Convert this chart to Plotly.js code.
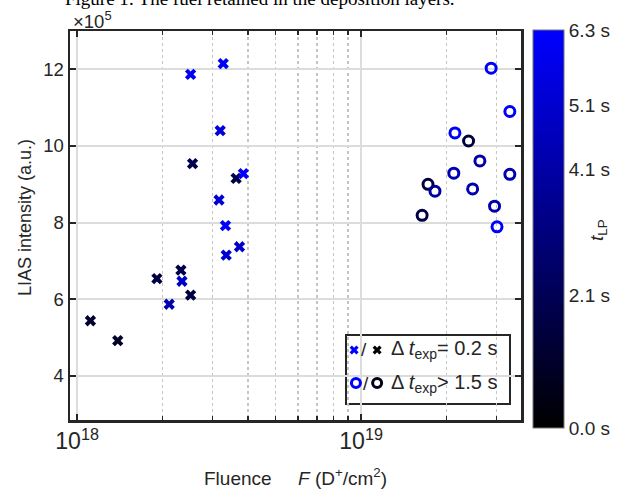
<!DOCTYPE html>
<html>
<head>
<meta charset="utf-8">
<script src="https://cdn.plot.ly/plotly-3.0.1.min.js"></script>
<style>html,body{margin:0;padding:0;background:#fff;}#chart{width:637px;height:489px;}</style>
</head>
<body>
<div id="chart"></div>
<script>
// Short exposure (Δt_exp = 0.2 s) – crosses
const fluenceShort = [3.27e18, 2.51e18, 3.19e18, 2.55e18, 3.63e18, 3.85e18, 3.16e18, 3.33e18, 3.73e18,
                      3.35e18, 2.32e18, 1.91e18, 2.34e18, 2.51e18, 2.11e18, 1.114e18, 1.39e18];
const liasShortE5 = [12.15, 11.87, 10.40, 9.54, 9.155, 9.28, 8.59, 7.92, 7.37,
                     7.15, 6.76, 6.54, 6.47, 6.11, 5.87, 5.44, 4.92];
const tlpShort = [6.2, 6.0, 5.4, 1.9, 1.8, 6.2, 5.3, 6.3, 5.0,
                  5.2, 1.8, 1.7, 5.0, 1.6, 4.3, 1.2, 1.0];

// Long exposure (Δt_exp > 1.5 s) – open circles
const fluenceLong = [2.87e19, 3.34e19, 2.14e19, 2.39e19, 2.62e19, 2.12e19, 3.34e19,
                     1.72e19, 1.82e19, 2.47e19, 2.95e19, 1.64e19, 3.01e19];
const liasLongE5 = [12.03, 10.90, 10.34, 10.13, 9.61, 9.29, 9.26,
                    9.00, 8.82, 8.88, 8.43, 8.19, 7.89];
const tlpLong = [6.3, 6.2, 6.0, 1.6, 4.2, 4.4, 4.3,
                 1.5, 4.0, 4.3, 4.2, 1.7, 6.2];

// Axis ticks
const yTicks = [4, 6, 8, 10, 12];
const cbTickVals = [0, 2.1, 4.1, 5.1, 6.3];
const cbTickText = ['0.0 s', '2.1 s', '4.1 s', '5.1 s', '6.3 s'];
const legendLabels = ['Δ <i>t</i><sub>exp</sub>= 0.2 s', 'Δ <i>t</i><sub>exp</sub>> 1.5 s'];

const FONT = 'Liberation Sans, Arial, sans-serif';
const AX = '#262626';
const FT = 18.5;   // tick labels
const FL = 19;     // titles / legend

const traces = [
  {type:'scatter', mode:'markers', x:fluenceShort, y:liasShortE5, showlegend:false,
   marker:{symbol:'x', size:10, color:tlpShort, coloraxis:'coloraxis', line:{width:0}}},
  {type:'scatter', mode:'markers', x:fluenceLong, y:liasLongE5, showlegend:false,
   marker:{symbol:'circle-open', size:10, color:tlpLong, coloraxis:'coloraxis', line:{width:3}}},
  // legend glyphs on an overlay axis (0..1 in plot-area fraction)
  {type:'scatter', mode:'markers', xaxis:'x2', yaxis:'y2', showlegend:false, hoverinfo:'skip',
   x:[0.630, 0.681], y:[0.180, 0.180],
   marker:{symbol:'x', size:8, color:['#0000ff', '#000000'], line:{width:0}}},
  {type:'scatter', mode:'markers', xaxis:'x2', yaxis:'y2', showlegend:false, hoverinfo:'skip',
   x:[0.634, 0.681], y:[0.095, 0.095],
   marker:{symbol:'circle-open', size:9, color:['#0000ff', '#00001a'], line:{width:3}}}
];

const annotations = [
  {text:'Figure 1: The fuel retained in the deposition layers.', xref:'paper', yref:'paper',
   x:(63-70)/451, y:(420-11)/389, xanchor:'left', yanchor:'bottom', showarrow:false,
   font:{family:'Liberation Serif, Times New Roman, serif', size:19, color:'#000'}},
  {text:'×10<sup>5</sup>', xref:'paper', yref:'paper', x:0.002, y:(420-34)/389, xanchor:'left', yanchor:'bottom',
   showarrow:false, font:{family:FONT, size:FT, color:AX}},
  {text:'LIAS intensity (a.u.)', xref:'paper', yref:'paper', x:(25-70)/451, y:(420-218)/389,
   xanchor:'center', yanchor:'middle', textangle:-90, showarrow:false, font:{family:FONT, size:18, color:AX}},
  {text:'Fluence\u00A0\u00A0\u00A0\u00A0\u00A0<i>F</i> (D<sup>+</sup>/cm<sup>2</sup>)', xref:'paper', yref:'paper', x:0.5, y:(420-477)/389,
   xanchor:'center', yanchor:'middle', showarrow:false, font:{family:FONT, size:FL, color:AX}},
  {text:'<i>t</i><sub>LP</sub>', xref:'paper', yref:'paper', x:(598-70)/451, y:(420-230)/389,
   xanchor:'center', yanchor:'middle', textangle:-90, showarrow:false, font:{family:FONT, size:FL, color:AX}},
  {text:'/', xref:'paper', yref:'paper', x:(364-70)/451, y:0.180, xanchor:'center', yanchor:'middle',
   showarrow:false, font:{family:FONT, size:FL, color:AX}},
  {text:'/', xref:'paper', yref:'paper', x:(366-70)/451, y:0.095, xanchor:'center', yanchor:'middle',
   showarrow:false, font:{family:FONT, size:FL, color:AX}},
  {text:legendLabels[0], xref:'paper', yref:'paper', x:(389-70)/451, y:0.180, xanchor:'left', yanchor:'middle',
   showarrow:false, font:{family:FONT, size:20, color:AX}},
  {text:legendLabels[1], xref:'paper', yref:'paper', x:(389-70)/451, y:0.095, xanchor:'left', yanchor:'middle',
   showarrow:false, font:{family:FONT, size:20, color:AX}}
];

const shapes = [
  {type:'rect', xref:'paper', yref:'paper', x0:(346-70)/451, x1:(510-70)/451, y0:(420-404)/389, y1:(420-335)/389,
   fillcolor:'#ffffff', line:{color:AX, width:2}, layer:'between'}
];

const layout = {
  width:637, height:489,
  margin:{l:70, r:116, t:31, b:69, pad:0},
  paper_bgcolor:'#ffffff', plot_bgcolor:'#ffffff',
  font:{family:FONT, size:FT, color:AX},
  showlegend:false,
  xaxis:{type:'log', range:[17.975, 19.563], dtick:1, exponentformat:'power', showexponent:'all',
         ticks:'inside', ticklen:6, tickwidth:2, tickcolor:AX, mirror:'ticks', showline:true,
         linecolor:AX, linewidth:2.5, showgrid:true, gridcolor:'#dcdcdc', gridwidth:2, zeroline:false,
         tickfont:{family:FONT, size:FT, color:AX},
         minor:{ticks:'inside', ticklen:4, tickwidth:1.5, tickcolor:AX, showgrid:true,
                gridcolor:'#c4c4c4', griddash:'dot', gridwidth:1.5}},
  yaxis:{range:[2.85, 13], tickvals:yTicks, ticktext:yTicks.map(String),
         ticks:'inside', ticklen:6, tickwidth:2, tickcolor:AX, mirror:'ticks', showline:true,
         linecolor:AX, linewidth:2.5, showgrid:true, gridcolor:'#dcdcdc', gridwidth:2, zeroline:false,
         tickfont:{family:FONT, size:FT, color:AX}},
  xaxis2:{overlaying:'x', range:[0,1], visible:false, fixedrange:true},
  yaxis2:{overlaying:'y', range:[0,1], visible:false, fixedrange:true},
  coloraxis:{cmin:0, cmax:6.3, colorscale:[[0,'#000000'],[1,'#0000ff']],
    colorbar:{x:(533-70)/451, xanchor:'left', xpad:0, thickness:31, thicknessmode:'pixels',
              len:398/389, lenmode:'fraction', y:(420-428)/389, yanchor:'bottom', ypad:0,
              outlinewidth:1, outlinecolor:'#777', tickvals:cbTickVals, ticktext:cbTickText,
              ticks:'', tickfont:{family:FONT, size:FL, color:AX}}},
  annotations:annotations,
  shapes:shapes
};

Plotly.newPlot('chart', traces, layout, {displayModeBar:false, staticPlot:true});
</script>
</body>
</html>
